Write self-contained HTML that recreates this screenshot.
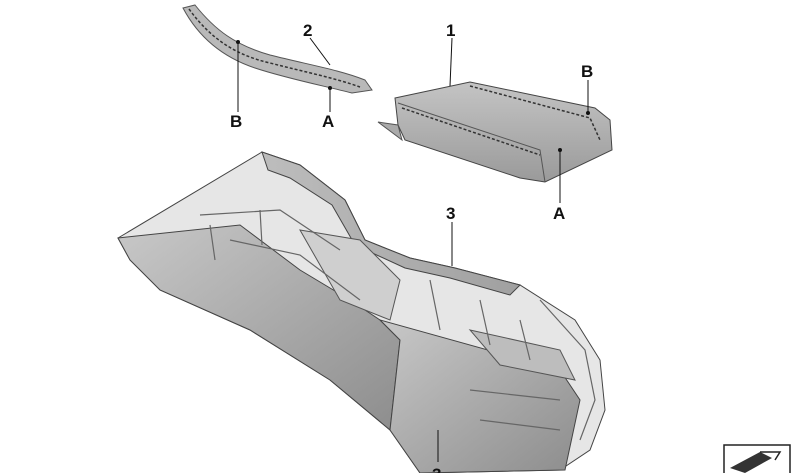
<!DOCTYPE html>
<html><head><style>
html,body{margin:0;padding:0;background:#fff;width:800px;height:473px;overflow:hidden}
svg{display:block}
text{font-family:"Liberation Sans",sans-serif;font-weight:bold;font-size:17px;fill:#111}
</style></head><body>
<svg width="800" height="473" viewBox="0 0 800 473">
<defs>
<linearGradient id="g1" x1="0" y1="0" x2="1" y2="1"><stop offset="0" stop-color="#c8c8c8"/><stop offset="1" stop-color="#8d8d8d"/></linearGradient>
<linearGradient id="g2" x1="0" y1="0" x2="0" y2="1"><stop offset="0" stop-color="#c4c4c4"/><stop offset="1" stop-color="#9a9a9a"/></linearGradient>
<linearGradient id="g3" x1="0" y1="0" x2="1" y2="0"><stop offset="0" stop-color="#bdbdbd"/><stop offset="1" stop-color="#a0a0a0"/></linearGradient>
</defs>
<path d="M183,8 L195,5 C215,30 235,45 270,55 C310,65 340,70 365,80 L372,90 L352,93 C320,85 285,78 255,68 C225,58 200,40 183,8 Z" fill="#b9b9b9" stroke="#555" stroke-width="1"/>
<path d="M189,9 C210,38 235,55 270,63 C305,72 335,78 360,87" fill="none" stroke="#333" stroke-width="1.5" stroke-dasharray="3,2"/>
<path d="M395,98 L470,82 L595,108 L610,120 L612,150 L545,182 L520,178 L405,140 L398,125 Z" fill="url(#g2)" stroke="#444" stroke-width="1"/>
<path d="M398,103 L540,150 L545,182" fill="none" stroke="#555" stroke-width="1"/>
<path d="M470,86 L590,118 L600,140" fill="none" stroke="#333" stroke-width="1.5" stroke-dasharray="3,2"/>
<path d="M402,108 L540,155" fill="none" stroke="#333" stroke-width="1.5" stroke-dasharray="3,2"/>
<path d="M378,122 L398,125 L402,140 Z" fill="#aaa" stroke="#555"/>
<!-- console -->
<path d="M118,238 L262,152 L300,165 L345,200 L365,240 L410,258 L455,268 L520,285 L575,320 L600,360 L605,410 L590,450 L560,470 L420,473 L390,430 L330,380 L250,330 L160,290 L130,260 Z" fill="#e6e6e6" stroke="#444" stroke-width="1"/>
<path d="M118,238 L240,225 L300,270 L350,300 L380,320 L400,340 L390,430 L330,380 L250,330 L160,290 L130,260 Z" fill="url(#g1)" stroke="#444"/>
<path d="M262,152 L300,165 L345,200 L365,240 L410,258 L455,268 L520,285 L510,295 L450,278 L405,268 L355,245 L332,205 L290,178 L268,170 Z" fill="url(#g3)" stroke="#444"/>
<path d="M380,320 L560,370 L580,400 L565,470 L420,473 L390,430 L400,340 Z" fill="url(#g1)" stroke="#444"/>
<path d="M300,230 L360,240 L400,280 L390,320 L340,300 Z" fill="#cfcfcf" stroke="#555"/>
<path d="M470,330 L560,350 L575,380 L500,365 Z" fill="#bdbdbd" stroke="#555"/>
<g fill="none" stroke="#666" stroke-width="1.2">
<path d="M200,215 L280,210 L340,250"/>
<path d="M230,240 L300,255 L360,300"/>
<path d="M430,280 L440,330 M480,300 L490,345 M520,320 L530,360"/>
<path d="M540,300 L585,350 L595,400 L580,440"/>
<path d="M470,390 L560,400 M480,420 L560,430"/>
<path d="M210,225 L215,260 M260,210 L262,245"/>
</g>
<g stroke="#111" stroke-width="1" fill="none">
<line x1="310" y1="38" x2="330" y2="65"/>
<line x1="452" y1="38" x2="450" y2="86"/>
<line x1="452" y1="222" x2="452" y2="266"/>
<line x1="238" y1="112" x2="238" y2="42"/>
<line x1="330" y1="112" x2="330" y2="88"/>
<line x1="588" y1="80" x2="588" y2="113"/>
<line x1="560" y1="203" x2="560" y2="150"/>
<line x1="438" y1="462" x2="438" y2="430"/>
</g>
<g fill="#111"><circle cx="238" cy="42" r="2"/><circle cx="330" cy="88" r="2"/><circle cx="588" cy="113" r="2"/><circle cx="560" cy="150" r="2"/></g>
<text x="303" y="36">2</text>
<text x="446" y="36">1</text>
<text x="230" y="127">B</text>
<text x="322" y="127">A</text>
<text x="581" y="77">B</text>
<text x="553" y="219">A</text>
<text x="446" y="219">3</text>
<text x="432" y="480">3</text>
<rect x="724" y="445" width="66" height="40" fill="#fff" stroke="#222" stroke-width="1.5"/>
<path d="M730,468 L760,452 L772,458 L745,473 Z" fill="#333"/>
<path d="M760,452 L780,452 L775,460" fill="none" stroke="#222" stroke-width="1.5"/>
</svg>
</body></html>
